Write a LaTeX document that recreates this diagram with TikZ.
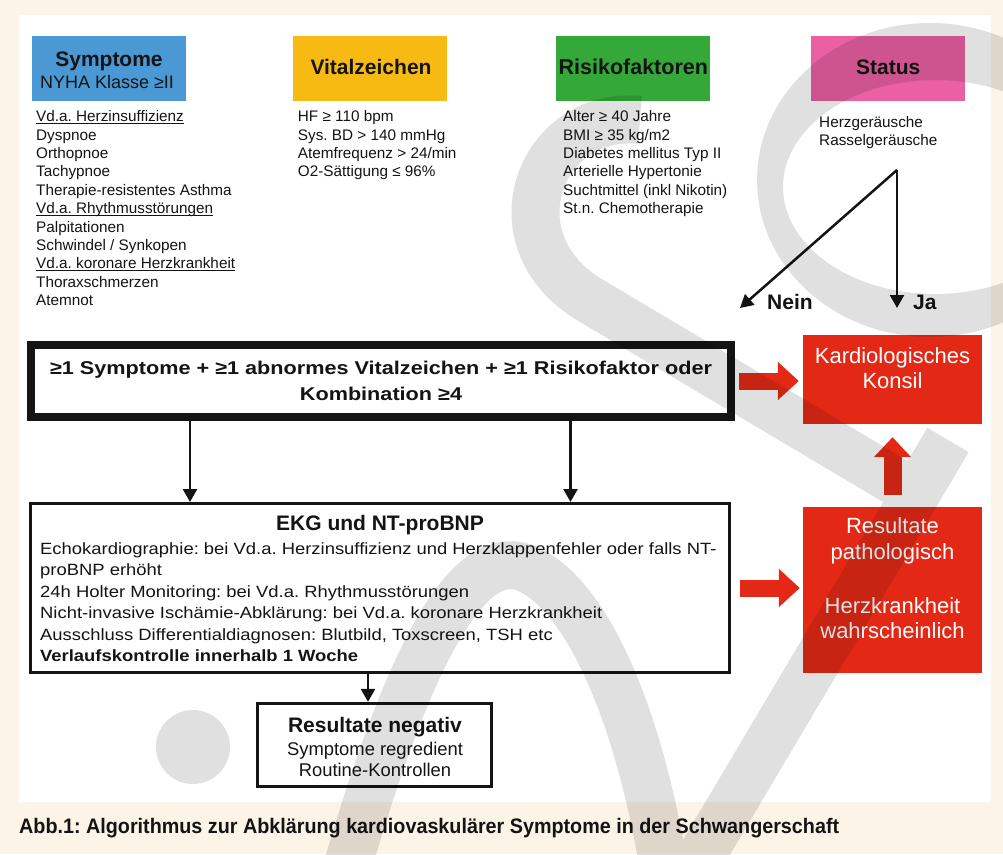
\documentclass[tikz,border=0pt]{standalone}
\usepackage{fontspec}
\setmainfont{Liberation Sans}
\usepackage{graphicx}
\usetikzlibrary{arrows.meta}

\definecolor{cream}{RGB}{253,244,232}
\definecolor{symblue}{RGB}{74,152,212}
\definecolor{vityellow}{RGB}{247,186,18}
\definecolor{riskgreen}{RGB}{52,168,56}
\definecolor{statpink}{RGB}{234,96,162}
\definecolor{konsred}{RGB}{227,41,22}
\definecolor{ink}{RGB}{20,20,20}

\newcommand{\fsz}[2]{\fontsize{#1}{#2}\selectfont}
\newcommand{\ulin}[1]{\underline{\smash{#1}}}
\newcommand{\hstretch}[2]{\scalebox{#1}[1]{#2}}

\tikzset{
  headbox/.style={minimum width=154pt, minimum height=65pt, inner sep=0pt},
  headtxt/.style={anchor=base, inner sep=0pt, font=\bfseries\fsz{21}{24}, text=ink},
  listitem/.style={anchor=base west, inner sep=0pt, font=\fsz{15.3}{18}, text=ink},
  ekgitem/.style={anchor=base west, inner sep=0pt, font=\fsz{16.3}{20}, text=ink},
  flow/.style={draw=ink, line width=2.5pt, -{Triangle[length=13pt,width=14pt]}},
  redbox/.style={fill=konsred, minimum width=179pt, inner sep=0pt},
  redtxt/.style={anchor=base, inner sep=0pt, font=\fsz{22}{25}, text=white},
  bigarrow/.style={draw=konsred, line width=17pt, -{Triangle[length=21pt,width=37pt]}},
  wm/.style={draw=black, draw opacity=.12, line width=48pt},
  wmfill/.style={fill=black, fill opacity=.12},
}

\begin{document}
\frenchspacing
\begin{tikzpicture}[x=1pt,y=-1pt]
\useasboundingbox (0,0) rectangle (1003,854);
\fill[cream] (0,0) rectangle (1003,854);
\fill[white] (19,15) rectangle (991,802);

% header boxes
\node[headbox, fill=symblue]    (symhead)  at (109,68.5) {};
\node[headbox, fill=vityellow]  (vithead)  at (369.7,68.5) {};
\node[headbox, fill=riskgreen]  (riskhead) at (633.3,68.5) {};
\node[headbox, fill=statpink]   (stathead) at (888.3,68.5) {};

\node[headtxt] (symt1) at (109,66) {Symptome};
\node[headtxt, font=\fsz{18}{22}] (symt2) at (107,88.3) {NYHA Klasse ≥II};
\node[headtxt] (vitt) at (371,74) {Vitalzeichen};
\node[headtxt, font=\bfseries\fsz{21.5}{24}] (riskt) at (633.3,74) {Risikofaktoren};
\node[headtxt] (statt) at (888.3,74) {Status};

% lists
\foreach \t [count=\i from 0] in {\ulin{Vd.a. Herzinsuffizienz}, Dyspnoe, Orthopnoe,
  Tachypnoe, Therapie-resistentes Asthma, \ulin{Vd.a. Rhythmusstörungen},
  Palpitationen, Schwindel / Synkopen, \ulin{Vd.a. koronare Herzkrankheit},
  Thoraxschmerzen, Atemnot}
  \node[listitem] (sym\i) at (36,121.6+18.4*\i) {\t};

\foreach \t [count=\i from 0] in {HF ≥ 110 bpm, Sys. BD > 140 mmHg,
  Atemfrequenz > 24/min, O2-Sättigung ≤ 96\%}
  \node[listitem] (vit\i) at (297.7,121.6+18.4*\i) {\t};

\foreach \t [count=\i from 0] in {Alter ≥ 40 Jahre, BMI ≥ 35 kg/m2,
  Diabetes mellitus Typ II, Arterielle Hypertonie, Suchtmittel (inkl Nikotin),
  St.n. Chemotherapie}
  \node[listitem] (risk\i) at (563,121.6+18.4*\i) {\t};

\foreach \t [count=\i from 0] in {Herzgeräusche, Rasselgeräusche}
  \node[listitem] (stat\i) at (819,127.5+18.4*\i) {\t};

% Status: Ja / Nein
\coordinate (fork) at (897,170);
\coordinate (neinend) at (740,308);
\coordinate (jaend) at (897,308);
\draw[flow] (fork) -- (neinend);
\draw[flow] (fork) -- (jaend);
\node[headtxt, anchor=base west] (nein) at (767,309) {Nein};
\node[headtxt, anchor=base west] (ja) at (913,309) {Ja};

% criteria box
\node[draw=ink, line width=8pt, minimum width=700pt, minimum height=72pt,
  inner sep=0pt, align=center, font=\bfseries\fsz{18.5}{26}, text=ink] (crit) at (381,381)
  {\hstretch{1.17}{≥1 Symptome + ≥1 abnormes Vitalzeichen + ≥1 Risikofaktor oder}\\
   \hstretch{1.17}{Kombination ≥4}};

% red boxes
\node[redbox, minimum height=89pt]  (konsil) at (892.5,379.5) {};
\node[redbox, minimum height=166pt] (resp)   at (892.5,590) {};
\node[redtxt] (konsil1) at (892.5,363.3) {Kardiologisches};
\node[redtxt] (konsil2) at (892.5,388.3) {Konsil};
\node[redtxt] (resp1) at (892.5,533.3) {Resultate};
\node[redtxt] (resp2) at (892.5,559.3) {pathologisch};
\node[redtxt] (resp3) at (892.5,613.3) {Herzkrankheit};
\node[redtxt] (resp4) at (892.5,638.3) {wahrscheinlich};

% EKG box
\node[draw=ink, line width=3pt, minimum width=699.5pt, minimum height=169pt,
  inner sep=0pt] (ekg) at (380,588) {};
\node[headtxt] (ekgtitle) at (380,530.7) {EKG und NT-proBNP};
\foreach \t [count=\i from 0] in {%
  Echokardiographie: bei Vd.a. Herzinsuffizienz und Herzklappenfehler oder falls NT-,
  proBNP erhöht,
  24h Holter Monitoring: bei Vd.a. Rhythmusstörungen,
  Nicht-invasive Ischämie-Abklärung: bei Vd.a. koronare Herzkrankheit,
  {Ausschluss Differentialdiagnosen: Blutbild, Toxscreen, TSH etc},
  \bfseries Verlaufskontrolle innerhalb 1 Woche}
  \node[ekgitem] (ekg\i) at (40,554+21.5*\i) {\hstretch{1.13}{\t}};

% negative results
\node[draw=ink, line width=3pt, minimum width=233.7pt, minimum height=83.3pt,
  inner sep=0pt] (neg) at (374.3,745) {};
\node[headtxt] (neg1) at (375,732) {Resultate negativ};
\node[headtxt, font=\fsz{18.4}{22}] (neg2) at (375,755) {Symptome regredient};
\node[headtxt, font=\fsz{18.4}{22}] (neg3) at (375,776) {Routine-Kontrollen};

% connectors
\draw[flow] ([xshift=-191pt]crit.south) -- ([xshift=-191pt]crit.south |- ekg.north);
\draw[flow] ([xshift=189.5pt]crit.south) -- ([xshift=189.5pt]crit.south |- ekg.north);
\draw[flow] ([xshift=-12pt]ekg.south) -- ([xshift=-12pt]ekg.south |- neg.north);
\draw[bigarrow] ([xshift=4pt]crit.east) -- ([xshift=-4pt]crit.east -| konsil.west);
\draw[bigarrow] ([xshift=9pt]ekg.east) -- ([xshift=-3pt]ekg.east -| resp.west);
\draw[bigarrow, line width=18pt, -{Triangle[length=20pt,width=36pt]}]
  ([yshift=12pt]resp.north) -- ([yshift=-13pt]konsil.south);

% caption
\node[anchor=base west, inner sep=0pt, font=\bfseries\fsz{21}{24}, text=ink] (caption)
  at (19,833) {\resizebox{820pt}{\height}{Abb.1: Algorithmus zur Abklärung kardiovaskulärer Symptome in der Schwangerschaft}};

% watermark
\fill[wmfill, even odd rule] (930,180) ellipse [x radius=173, y radius=157]
  (935,187) ellipse [x radius=152, y radius=107];
\draw[wm] (640,120) .. controls (540,110) and (490,240) .. (590,300) -- (935,505)
  (948,440) -- (690,875)
  (345,875) .. controls (410,650) and (470,540) .. (530,570) .. controls (590,600) and (640,720) .. (665,875);
\fill[wmfill] (193,747) circle[radius=37];
\end{tikzpicture}
\end{document}
